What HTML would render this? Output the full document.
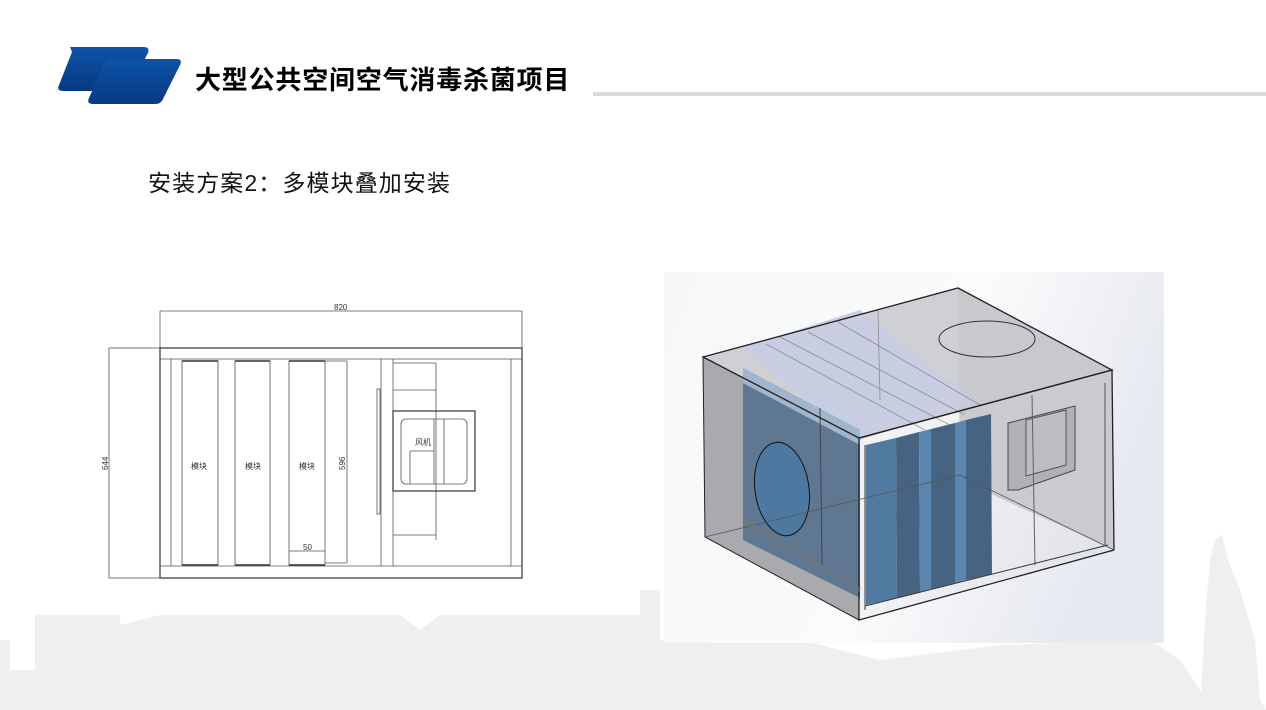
<!DOCTYPE html>
<html><head><meta charset="utf-8"><style>
body{margin:0;width:1266px;height:710px;overflow:hidden;background:#fff;font-family:"Liberation Sans","Noto Sans CJK SC",sans-serif;position:relative}
.t{position:absolute;left:195px;top:60px;font-size:26px;font-weight:bold;color:#000;letter-spacing:0.8px}
.s{position:absolute;left:148px;top:164px;font-size:23px;color:#111;letter-spacing:1.1px}
</style></head><body>
<svg width="1266" height="710" style="position:absolute;left:0;top:0">
<defs>
<linearGradient id="b" x1="0" y1="0" x2="0" y2="1"><stop offset="0" stop-color="#0d53a8"/><stop offset="1" stop-color="#073a80"/></linearGradient>
<linearGradient id="bg" x1="0" y1="0" x2="1" y2="0.3"><stop offset="0" stop-color="#f6f7f9"/><stop offset="0.6" stop-color="#fbfbfc"/><stop offset="1" stop-color="#e6e9f0"/></linearGradient>
</defs>
<g fill="#efefef">
<path d="M0 640 L10 640 L10 670 L35 670 L35 615 L120 615 L120 625 L160 615 L260 615 L310 615 L400 615 L420 630 L440 615 L640 615 L640 590 L660 590 L660 640 L800 640 L880 660 L1000 645 L1150 640 L1180 660 L1200 690 L1210 710 L0 710Z"/>
<path d="M1200 710 L1205 620 L1210 560 L1215 540 L1222 535 L1228 560 L1240 590 L1255 640 L1260 700 L1266 710Z"/>
</g>
<path d="M78 47 L152 47 Q158 47 156 53 L138 86 Q136 91 130 91 L72 91 Q64 91 67 85 L80 52Z" fill="url(#b)" transform="translate(-8,0)"/>
<path d="M110 59 L176 59 Q183 59 180 65 L163 99 Q161 104 155 104 L94 104 Q86 104 89 98 L104 64 Q106 59 110 59Z" fill="url(#b)"/>
<rect x="593" y="92" width="673" height="4" fill="#d9d9d9"/>
<g fill="none" stroke="#555" stroke-width="0.8">
<line x1="160" y1="311" x2="522" y2="311"/><line x1="160" y1="311" x2="160" y2="348"/><line x1="522" y1="311" x2="522" y2="348"/>
<rect x="109" y="348" width="51" height="230"/>
<rect x="160" y="348" width="362" height="230" stroke="#333" stroke-width="1.2"/>
<line x1="160" y1="359" x2="522" y2="359"/><line x1="160" y1="566" x2="522" y2="566"/>
<line x1="171" y1="359" x2="171" y2="566"/><line x1="511" y1="359" x2="511" y2="566"/>
<rect x="182" y="361" width="36" height="204"/><rect x="235" y="361" width="35" height="204"/><rect x="289" y="361" width="36" height="204"/>
<line x1="289" y1="551" x2="325" y2="551"/>
<line x1="325" y1="361" x2="347" y2="361"/><line x1="347" y1="361" x2="347" y2="563"/><line x1="325" y1="563" x2="347" y2="563"/>
<line x1="381" y1="359" x2="381" y2="566"/><line x1="393" y1="359" x2="393" y2="566"/>
<rect x="377" y="389" width="3" height="125"/>
<line x1="393" y1="363" x2="436" y2="363"/><line x1="436" y1="363" x2="436" y2="540"/><line x1="393" y1="390" x2="436" y2="390"/><line x1="393" y1="535" x2="436" y2="535"/>
<rect x="393" y="411" width="82" height="80" stroke="#333" stroke-width="1.2"/>
<rect x="401" y="419" width="66" height="65" rx="5"/>
<line x1="410" y1="451" x2="410" y2="484"/><line x1="410" y1="451" x2="434" y2="451"/><line x1="434" y1="419" x2="434" y2="484"/><line x1="444" y1="419" x2="444" y2="484"/>
</g>
<g stroke="#333" stroke-width="1.5">
<line x1="182" y1="361" x2="218" y2="361"/><line x1="182" y1="565" x2="218" y2="565"/>
<line x1="235" y1="361" x2="270" y2="361"/><line x1="235" y1="565" x2="270" y2="565"/>
<line x1="289" y1="361" x2="325" y2="361"/><line x1="289" y1="565" x2="325" y2="565"/>
</g>
<g font-size="8" fill="#333" font-family="Liberation Sans,Noto Sans CJK SC,sans-serif">
<text x="334" y="310">820</text>
<text x="191" y="469">模块</text><text x="245" y="469">模块</text><text x="299" y="469">模块</text>
<text x="415" y="445">风机</text><text x="303" y="550">50</text>
<text transform="translate(108,470) rotate(-90)">644</text>
<text transform="translate(345,470) rotate(-90)">596</text>
</g>
<rect x="664" y="272" width="500" height="371" fill="url(#bg)"/>
<polygon points="703,357 958,288 1112,370 859,438" fill="#cfd0d4"/>
<polygon points="703,357 859,438 859,620 705,537" fill="#a9aaae" stroke="#222"/>
<polygon points="958,288 1112,370 1114,550 960,480" fill="#c8c9cd"/>
<polygon points="741,348 860,310 975,402 860,440" fill="#c9cde2"/>
<polygon points="743,368 860,430 860,598 743,540" fill="#5f7790"/>
<polygon points="743,368 860,430 860,445 743,383" fill="#9fb6cc"/>
<ellipse cx="782" cy="489" rx="27" ry="47" fill="#4d79a1" stroke="#111" stroke-width="1" transform="rotate(-8 782 489)"/>
<line x1="820" y1="408" x2="822" y2="565" stroke="#445"/>
<g stroke="#8a8c96" fill="none" stroke-width="0.8">
<line x1="766" y1="344" x2="925" y2="430"/><line x1="780" y1="337" x2="950" y2="425"/><line x1="808" y1="332" x2="965" y2="415"/><line x1="838" y1="322" x2="980" y2="405"/>
<line x1="878" y1="310" x2="880" y2="400"/>
</g>
<ellipse cx="987" cy="339" rx="48" ry="18" fill="none" stroke="#333"/>
<polygon points="1008,423 1075,406 1075,470 1018,490 1008,490" fill="#a7a9b0" stroke="#222"/>
<polygon points="1026,420 1066,410 1066,465 1026,476" fill="#b8bac0" stroke="#333"/>
<line x1="1032" y1="395" x2="1035" y2="565" stroke="#444"/>
<polygon points="859,438 1112,370 1114,550 859,620" fill="rgba(210,210,215,0.2)" stroke="#222" stroke-width="1.3"/>
<polygon points="866,445 896,438 897,598 866,605" fill="#517aa1"/>
<polygon points="896,438 919,432 920,592 897,598" fill="#466482"/>
<polygon points="919,432 931,429 931,589 920,592" fill="#5a86b0"/>
<polygon points="931,429 955,423 955,583 931,589" fill="#466482"/>
<polygon points="955,423 966,420 966,580 955,583" fill="#5a86b0"/>
<polygon points="966,420 991,414 992,574 966,580" fill="#466482"/>
<polygon points="703,357 958,288 1112,370 859,438" fill="none" stroke="#222" stroke-width="1.3"/>
<line x1="865" y1="445" x2="865" y2="610" stroke="#333"/>
<line x1="1105" y1="383" x2="1105" y2="545" stroke="#555"/>
<line x1="865" y1="606" x2="1108" y2="545" stroke="#333"/>
<line x1="705" y1="537" x2="960" y2="475" stroke="#555" stroke-width="0.8"/>
<line x1="960" y1="475" x2="1114" y2="550" stroke="#555" stroke-width="0.8"/>
<line x1="743" y1="520" x2="860" y2="590" stroke="#777" stroke-width="4" opacity="0.5"/>
</svg>
<div class="t">大型公共空间空气消毒杀菌项目</div>
<div class="s">安装方案2：多模块叠加安装</div>
</body></html>
